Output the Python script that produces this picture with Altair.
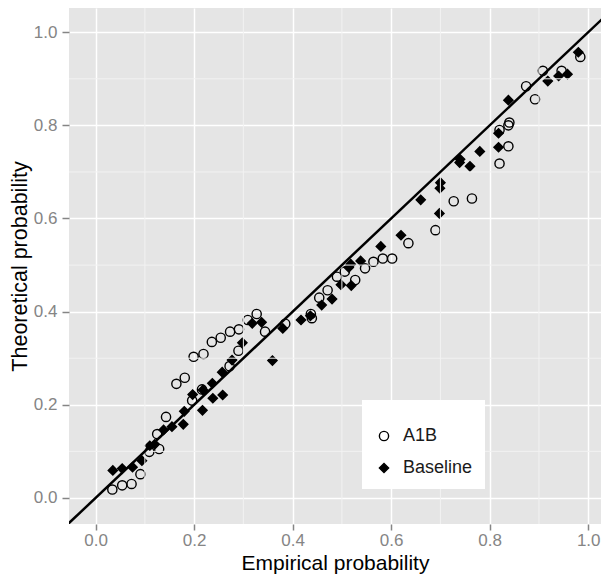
import altair as alt
import pandas as pd

series = ["A1B", "Baseline"]

a1b_x = [0.034, 0.054, 0.073, 0.091, 0.109, 0.129, 0.125, 0.143, 0.164, 0.181,
         0.196, 0.199, 0.216, 0.219, 0.236, 0.254, 0.272, 0.273, 0.290, 0.291,
         0.309, 0.327, 0.344, 0.385, 0.437, 0.439, 0.454, 0.471, 0.490, 0.506,
         0.527, 0.547, 0.564, 0.583, 0.602, 0.635, 0.690, 0.727, 0.764, 0.820,
         0.820, 0.838, 0.838, 0.840, 0.874, 0.892, 0.908, 0.946, 0.984]
a1b_y = [0.018, 0.027, 0.030, 0.051, 0.099, 0.105, 0.137, 0.174, 0.245, 0.258,
         0.209, 0.303, 0.233, 0.309, 0.335, 0.344, 0.283, 0.357, 0.316, 0.362,
         0.382, 0.395, 0.357, 0.374, 0.395, 0.386, 0.430, 0.446, 0.475, 0.486,
         0.468, 0.493, 0.507, 0.514, 0.514, 0.547, 0.575, 0.637, 0.643, 0.718,
         0.790, 0.755, 0.800, 0.806, 0.884, 0.856, 0.917, 0.917, 0.947]

base_x = [0.035, 0.054, 0.075, 0.094, 0.110, 0.120, 0.138, 0.155, 0.178, 0.180,
          0.197, 0.217, 0.218, 0.237, 0.238, 0.258, 0.257, 0.277, 0.298, 0.318,
          0.337, 0.359, 0.380, 0.417, 0.436, 0.459, 0.480, 0.498, 0.519, 0.514,
          0.518, 0.538, 0.579, 0.620, 0.660, 0.698, 0.699, 0.700, 0.739, 0.740,
          0.760, 0.780, 0.818, 0.818, 0.838, 0.918, 0.940, 0.958, 0.980]
base_y = [0.059, 0.063, 0.066, 0.080, 0.112, 0.115, 0.146, 0.153, 0.158, 0.186,
          0.222, 0.188, 0.232, 0.246, 0.214, 0.221, 0.270, 0.296, 0.333, 0.375,
          0.377, 0.295, 0.364, 0.382, 0.391, 0.414, 0.427, 0.458, 0.456, 0.495,
          0.502, 0.509, 0.540, 0.564, 0.640, 0.611, 0.665, 0.677, 0.720, 0.727,
          0.712, 0.744, 0.753, 0.783, 0.854, 0.895, 0.906, 0.910, 0.957]

line_x = [-0.06, 1.06]
line_y = [-0.06, 1.06]

major_ticks = [0.0, 0.2, 0.4, 0.6, 0.8, 1.0]
minor_ticks = [0.1, 0.3, 0.5, 0.7, 0.9]

pts = pd.DataFrame({
    "x": a1b_x + base_x,
    "y": a1b_y + base_y,
    "series": [series[0]] * len(a1b_x) + [series[1]] * len(base_x),
})
pts["order"] = list(range(len(pts)))

xs = alt.Scale(domain=[-0.054, 1.026], nice=False, zero=False)
ys = alt.Scale(domain=[-0.056, 1.052], nice=False, zero=False)

FONT = "Liberation Sans"
LABEL_COLOR = "#858585"

x_axis = alt.Axis(values=major_ticks, format=".1f", grid=True,
                  labelPadding=2, titlePadding=4, tickSize=6, titleFontSize=21)
y_axis = alt.Axis(values=major_ticks, format=".1f", grid=True,
                  labelPadding=5, titlePadding=2, tickSize=7, titleFontSize=21.5)
X_TITLE = "Empirical probability"
Y_TITLE = "Theoretical probability"

minor_df = pd.DataFrame({"m": minor_ticks})
minor_v = alt.Chart(minor_df).mark_rule(color="#F2F2F2", strokeWidth=1).encode(
    x=alt.X("m:Q", scale=xs, axis=x_axis, title=X_TITLE))
minor_h = alt.Chart(minor_df).mark_rule(color="#F2F2F2", strokeWidth=1).encode(
    y=alt.Y("m:Q", scale=ys, axis=y_axis, title=Y_TITLE))

leg = alt.Legend(
    title=" ", titleFontSize=10, titlePadding=5,
    orient="none", legendX=293, legendY=392,
    fillColor="white", padding=12, labelFontSize=18, labelFont=FONT,
    labelColor="#1A1A1A", rowPadding=14, labelOffset=10, symbolOffset=1,
    symbolStrokeWidth=1.4, symbolStrokeColor="black", symbolSize=85,
)

points = alt.Chart(pts).mark_point(filled=True, opacity=1, size=85,
                                   strokeWidth=1.4).encode(
    x=alt.X("x:Q", scale=xs, axis=x_axis, title=X_TITLE),
    y=alt.Y("y:Q", scale=ys, axis=y_axis, title=Y_TITLE),
    shape=alt.Shape("series:N", scale=alt.Scale(domain=series, range=["circle", "diamond"]), legend=leg),
    fill=alt.Fill("series:N", scale=alt.Scale(domain=series, range=["rgba(0,0,0,0)", "black"]), legend=leg),
    stroke=alt.Stroke("series:N", scale=alt.Scale(domain=series, range=["black", "black"]), legend=leg),
    order=alt.Order("order:Q"),
)

line_df = pd.DataFrame({"x": line_x, "y": line_y})
line = alt.Chart(line_df).mark_line(color="black", strokeWidth=2.5, clip=True).encode(
    x=alt.X("x:Q", scale=xs, axis=x_axis, title=X_TITLE),
    y=alt.Y("y:Q", scale=ys, axis=y_axis, title=Y_TITLE),
)

chart = alt.layer(points, minor_v, minor_h, line).properties(
    width=532, height=516,
    autosize=alt.AutoSizeParams(type="none"),
    padding={"left": 61, "top": 0, "right": 0, "bottom": 53},
    background="white",
).configure_view(
    fill="#E5E5E5", stroke=None
).configure_axis(
    domain=False, gridColor="white", gridWidth=1.5,
    tickColor=LABEL_COLOR, tickWidth=1.5,
    labelFont=FONT, labelFontSize=17, labelColor=LABEL_COLOR,
    titleFont=FONT, titleFontWeight="normal", titleColor="black",
)

chart.save("out.html", embed_options={"renderer": "svg", "actions": False})
